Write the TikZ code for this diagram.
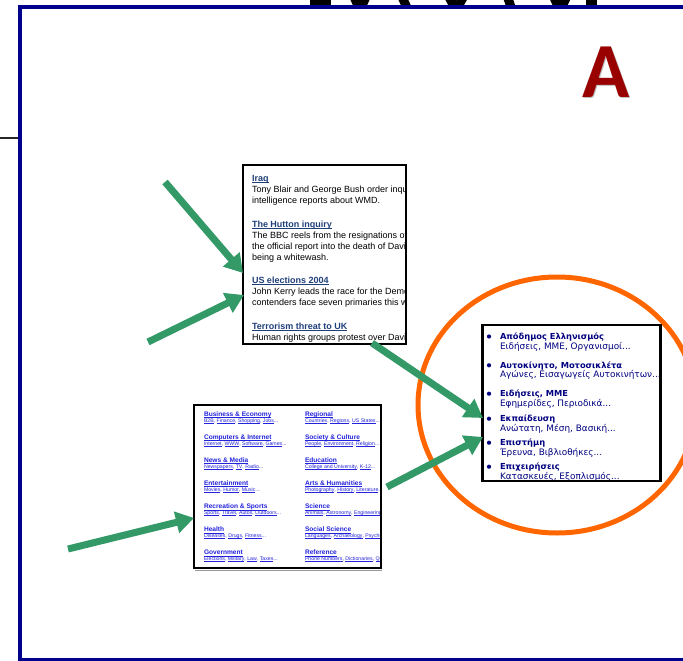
\documentclass[tikz,border=0pt]{standalone}
\usepackage{fontspec}
\usetikzlibrary{arrows.meta}
\newfontfamily\newsfont{Liberation Sans}
\newfontfamily\grfont{DejaVu Sans}
\newfontfamily\capfont{Carlito}

\definecolor{framenavy}{RGB}{0,0,140}
\definecolor{arrowgreen}{RGB}{51,153,102}
\definecolor{ringorange}{RGB}{255,102,0}
\definecolor{newsblue}{RGB}{31,63,122}
\definecolor{catblue}{RGB}{35,35,220}
\definecolor{grnavy}{RGB}{0,0,128}
\definecolor{letterred}{RGB}{153,0,0}

% underlined link text: #1 gap below baseline, #2 rule thickness, #3 text
\newbox\linkbox
\newcommand\ulx[3]{\setbox\linkbox=\hbox{#3}\rlap{\rule[-#1]{\wd\linkbox}{#2}}\box\linkbox}
\newcommand\newsul[1]{\ulx{1.8pt}{0.8pt}{#1}}
\newcommand\catul[1]{\ulx{1.3pt}{0.5pt}{#1}}
\newcommand\subul[1]{\ulx{0.9pt}{0.35pt}{#1}}

\tikzset{
  panel/.style={draw=black, line width=2.2pt, fill=white, inner sep=0pt, outer sep=0pt},
  pointer/.style={draw=arrowgreen, line width=7pt, -{Triangle[length=18pt,width=21pt]}},
  txt/.style={anchor=base west, inner sep=0pt, outer sep=0pt},
  newshead/.style={txt, font=\newsfont\bfseries\fontsize{9}{11}\selectfont, text=newsblue},
  newsbody/.style={txt, font=\newsfont\fontsize{9}{11}\selectfont, text=black},
  cathead/.style={txt, font=\newsfont\bfseries\fontsize{6.6}{8}\selectfont, text=catblue},
  catsub/.style={txt, font=\newsfont\fontsize{5.2}{6}\selectfont, text=catblue},
  grhead/.style={txt, font=\grfont\bfseries\fontsize{8.3}{10}\selectfont, text=grnavy},
  grsub/.style={txt, font=\grfont\fontsize{8.9}{10}\selectfont, text=grnavy},
}

% one directory entry: bold linked title with a line of sub-links below
\newcommand\catentry[5]{%
  \node[cathead] (#1h) at (#2,#3) {\catul{#4}};
  \node[catsub] (#1s) at (#2,#3+6) {#5};
}
% one Greek directory entry with its bullet
\newcommand\grentry[4]{%
  \fill[grnavy] (489,#2-3) circle (2.1);
  \node[grhead] (#1h) at (500,#2) {#3};
  \node[grsub] (#1s) at (500,#2+9.5) {#4};
}

\begin{document}
\begin{tikzpicture}[x=1pt,y=-1pt]
\useasboundingbox (0,0) rectangle (683,661);
\fill[white] (0,0) rectangle (683,661);

% lower edges of large black lettering above the frame
\begin{scope}
  \clip (300,0) rectangle (605,6.5);
  \fill[black] (310,-10) rectangle (331,10);
  \draw[black, line width=9pt] (344,-25) -- (360,10) -- (376,-25);
  \draw[black, line width=9pt] (392,-25) -- (408,10);
  \draw[black, line width=9pt] (437,-25) -- (456,10) -- (476,-25);
  \draw[black, line width=9pt] (500,-25) -- (512,10);
  \draw[black, line width=9pt] (543,-25) -- (560,10) -- (578,-25);
  \fill[black] (586,-10) rectangle (597,10);
\end{scope}

% short rule outside the frame
\draw[black!85, line width=1.8pt] (0,138) -- (18,138);

% slide frame
\draw[framenavy, line width=4pt] (683,7) -- (19.7,7) -- (19.7,659.5) -- (683,659.5);

% corner letter with soft shadow
\node[font=\capfont\bfseries\fontsize{78}{80}\selectfont, text=black!25, anchor=base, inner sep=0pt] (markshadow) at (607.5,98.5) {A};
\node[font=\capfont\bfseries\fontsize{78}{80}\selectfont, text=letterred, anchor=base, inner sep=0pt] (mark) at (606,97) {A};

% ---------------- news headlines panel ----------------
\node[panel, minimum width=163pt, minimum height=179pt] (news) at (324.5,254.5) {};
\begin{scope}
  \clip (244,166) rectangle (405,343);
  \node[newshead] (h1) at (252,181) {\newsul{Iraq}};
  \node[newsbody] (b11) at (252,192) {Tony Blair and George Bush order inquiries};
  \node[newsbody] (b12) at (252,203) {intelligence reports about WMD.};
  \node[newshead] (h2) at (252,227) {\newsul{The Hutton inquiry}};
  \node[newsbody] (b21) at (252,238) {The BBC reels from the resignations of};
  \node[newsbody] (b22) at (252,249) {the official report into the death of David};
  \node[newsbody] (b23) at (252,260) {being a whitewash.};
  \node[newshead] (h3) at (252,283) {\newsul{US elections 2004}};
  \node[newsbody] (b31) at (252,294) {John Kerry leads the race for the Demo};
  \node[newsbody] (b32) at (252,305) {contenders face seven primaries this we};
  \node[newshead] (h4) at (252,329) {\newsul{Terrorism threat to UK}};
  \node[newsbody] (b41) at (252,340) {Human rights groups protest over David};
\end{scope}
\draw[black, line width=2.2pt] (news.north west) rectangle (news.south east);

% ---------------- subject directory panel ----------------
\node[panel, minimum width=187pt, minimum height=163pt] (cats) at (287.5,486.5) {};
\draw[black!40, line width=1pt] (195,570.5) -- (382,570.5);
\begin{scope}
  \clip (195,406) rectangle (380,567);
  \catentry{c1}{204}{416.3}{Business \& Economy}{\subul{B2B}, \subul{Finance}, \subul{Shopping}, \subul{Jobs}...}
  \catentry{c2}{204}{439.4}{Computers \& Internet}{\subul{Internet}, \subul{WWW}, \subul{Software}, \subul{Games}...}
  \catentry{c3}{204}{462.5}{News \& Media}{\subul{Newspapers}, \subul{TV}, \subul{Radio}...}
  \catentry{c4}{204}{485.6}{Entertainment}{\subul{Movies}, \subul{Humor}, \subul{Music}...}
  \catentry{c5}{204}{508.7}{Recreation \& Sports}{\subul{Sports}, \subul{Travel}, \subul{Autos}, \subul{Outdoors}...}
  \catentry{c6}{204}{531.8}{Health}{\subul{Diseases}, \subul{Drugs}, \subul{Fitness}...}
  \catentry{c7}{204}{554.9}{Government}{\subul{Elections}, \subul{Military}, \subul{Law}, \subul{Taxes}...}
  \catentry{d1}{305}{416.3}{Regional}{\subul{Countries}, \subul{Regions}, \subul{US States}...}
  \catentry{d2}{305}{439.4}{Society \& Culture}{\subul{People}, \subul{Environment}, \subul{Religion}...}
  \catentry{d3}{305}{462.5}{Education}{\subul{College and University}, \subul{K-12}...}
  \catentry{d4}{305}{485.6}{Arts \& Humanities}{\subul{Photography}, \subul{History}, \subul{Literature}...}
  \catentry{d5}{305}{508.7}{Science}{\subul{Animals}, \subul{Astronomy}, \subul{Engineering}...}
  \catentry{d6}{305}{531.8}{Social Science}{\subul{Languages}, \subul{Archaeology}, \subul{Psychology}...}
  \catentry{d7}{305}{554.9}{Reference}{\subul{Phone Numbers}, \subul{Dictionaries}, \subul{Quotations}...}
\end{scope}
\draw[black, line width=2.2pt] (cats.north west) rectangle (cats.south east);

% ---------------- Greek directory panel ----------------
\draw[ringorange, line width=5pt] (557,405) ellipse [x radius=139, y radius=128];
\node[panel, minimum width=178pt, minimum height=156pt] (greek) at (571.5,403) {};
\begin{scope}
  \clip (483,326) rectangle (660,480);
  \grentry{g1}{339.5}{Απόδημος Ελληνισμός}{Ειδήσεις, ΜΜΕ, Οργανισμοί...}
  \grentry{g2}{368.3}{Αυτοκίνητο, Μοτοσικλέτα}{Αγώνες, Εισαγωγείς Αυτοκινήτων...}
  \grentry{g3}{396.7}{Ειδήσεις, ΜΜΕ}{Εφημερίδες, Περιοδικά...}
  \grentry{g4}{421.7}{Εκπαίδευση}{Ανώτατη, Μέση, Βασική...}
  \grentry{g5}{445.7}{Επιστήμη}{Έρευνα, Βιβλιοθήκες...}
  \grentry{g6}{469.7}{Επιχειρήσεις}{Κατασκευές, Εξοπλισμός...}
\end{scope}
\draw[black, line width=2.4pt] (greek.north west) rectangle (greek.south east);

% ---------------- pointers ----------------
\coordinate (t1) at (165,182);
\coordinate (t2) at (148,342);
\coordinate (t3) at (372,343);
\coordinate (t4) at (387,487);
\coordinate (t5) at (68,549);
\coordinate (p1) at (243,273);
\coordinate (p2) at (244,295);
\coordinate (p3) at (483,418);
\coordinate (p4) at (483,437);
\coordinate (p5) at (194,518);
\draw[pointer] (t1) -- (p1);
\draw[pointer] (t2) -- (p2);
\draw[pointer] (t3) -- (p3);
\draw[pointer] (t4) -- (p4);
\draw[pointer] (t5) -- (p5);
\end{tikzpicture}
\end{document}
